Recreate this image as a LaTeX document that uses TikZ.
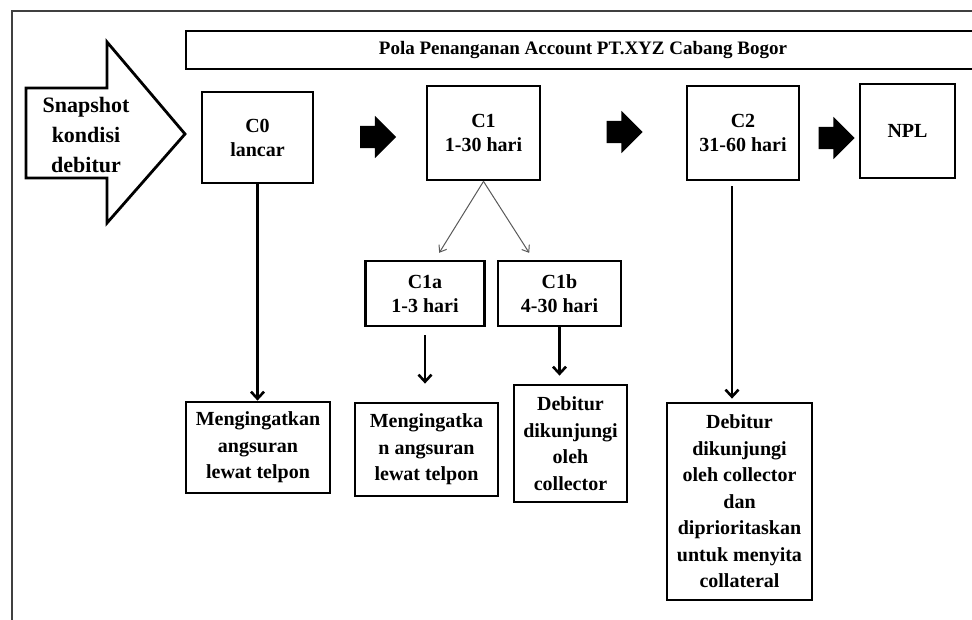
\documentclass[tikz,border=0pt]{standalone}
\usepackage{fontspec}
\setmainfont{Liberation Serif}
\usepackage{tikz}
\usetikzlibrary{arrows.meta, positioning, shapes.arrows}
\tikzset{
  stagebox/.style={rectangle, draw=black, line width=2.8pt, align=center,
    inner sep=2pt, font=\bfseries\fontsize{20}{24}\selectfont},
  notebox/.style={rectangle, draw=black, line width=2.8pt, align=center,
    inner sep=2pt, font=\bfseries\fontsize{20}{26.5}\selectfont},
  headbox/.style={rectangle, draw=black, line width=2.6pt,
    font=\bfseries\fontsize{19}{22}\selectfont},
  blockarrow/.style={single arrow, fill=black, draw=none, inner sep=11pt,
    minimum height=36pt, single arrow head extend=10pt},
  bigarrow/.style={-{Straight Barb[length=7pt,width=13pt]}, line width=2.6pt},
  thinarrow/.style={-{Straight Barb[length=6pt,width=9pt]}, line width=1pt, color=gray!70!black}
}
\begin{document}
\begin{tikzpicture}[x=1pt, y=-1pt]
  \clip (0,0) rectangle (972,620);
  % outer frame (runs off the page)
  \draw[line width=2.4pt, color=black!75] (12,700) -- (12,11) -- (1000,11);
  % title bar
  \node[headbox, minimum width=794pt, minimum height=38pt] (title) at (583,50)
    {Pola Penanganan Account PT.XYZ Cabang Bogor};
  % big input arrow
  \draw[line width=2.8pt] (26,88) -- (107,88) -- (107,42) -- (185,134)
    -- (107,223) -- (107,178) -- (26,178) -- cycle;
  \node[align=center, font=\bfseries\fontsize{22}{30}\selectfont] (snap) at (86,135)
    {Snapshot\\kondisi\\debitur};

  % ── stages ───────────────────────────────────────────
  \node[stagebox, minimum width=111pt, minimum height=91pt] (C0) at (257.5,137.5) {C0\\lancar};
  \node[stagebox, minimum width=113pt, minimum height=94pt] (C1) at (483.5,133) {C1\\1-30 hari};
  \node[stagebox, minimum width=112pt, minimum height=94pt] (C2) at (743,133) {C2\\31-60 hari};
  \node[stagebox, minimum width=95pt, minimum height=94pt] (NPL) at (907.5,131) {NPL};
  \node[blockarrow] (a1) at (372.5,137) {};
  \node[blockarrow] (a2) at (619,132) {};
  \node[blockarrow] (a3) at (831,138) {};

  % ── sub-stages of C1 ─────────────────────────────────
  \node[stagebox, minimum width=119pt, minimum height=65pt] (C1a) at (425,293.5) {C1a\\1-3 hari};
  \node[stagebox, minimum width=123pt, minimum height=65pt] (C1b) at (559.5,293.5) {C1b\\4-30 hari};

  % ── actions ──────────────────────────────────────────
  \node[notebox, minimum width=144pt, minimum height=91pt] (R0) at (258,447.5)
    {Mengingatkan\\angsuran\\lewat telpon};
  \node[notebox, minimum width=143pt, minimum height=93pt] (R1a) at (426.5,449.5)
    {Mengingatka\\n angsuran\\lewat telpon};
  \node[notebox, minimum width=113pt, minimum height=117pt] (R1b) at (570.5,443.5)
    {Debitur\\dikunjungi\\oleh\\collector};
  \node[notebox, minimum width=145pt, minimum height=197pt] (R2) at (739.5,501.5)
    {Debitur\\dikunjungi\\oleh collector\\dan\\diprioritaskan\\untuk menyita\\collateral};

  % connectors
  \draw[bigarrow] (C0.south) -- (C0.south |- R0.north);
  \draw[thinarrow, shorten >=8pt] (C1.south) -- ([xshift=10pt]C1a.north);
  \draw[thinarrow, shorten >=8pt] (C1.south) -- ([xshift=-26pt]C1b.north);
  \draw[bigarrow, shorten <=8pt, shorten >=18pt] (C1a.south) -- (C1a.south |- R1a.north);
  \draw[bigarrow, shorten >=8pt] (C1b.south) -- (C1b.south |- R1b.north);
  \draw[bigarrow, shorten <=5pt, shorten >=3pt] ([xshift=-11pt]C2.south) -- ([xshift=-11pt]C2.south |- R2.north);
\end{tikzpicture}
\end{document}
